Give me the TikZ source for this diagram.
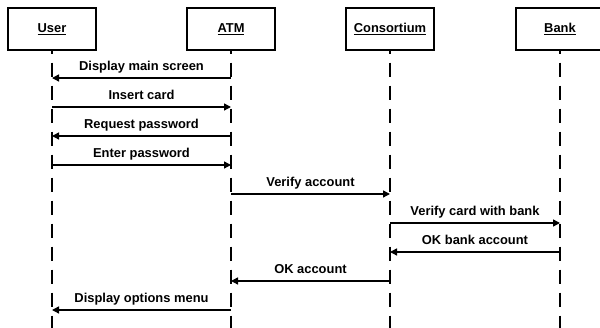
\documentclass[tikz,border=0pt]{standalone}
\usepackage{fontspec}
\setmainfont{Liberation Sans}
\usetikzlibrary{arrows.meta, positioning}

\begin{document}
\begin{tikzpicture}[->, >={Triangle[length=7pt,width=7pt]}, x=1pt, y=-1pt, line width=1.4pt, font=\fontsize{12.9}{15}\selectfont\bfseries]
		\tikzstyle{object}=[draw=black, fill=white, minimum width=88pt, minimum height=42pt, inner sep=0pt, line width=1.5pt]
		\tikzstyle{lifeline}=[-, line width=1.4pt, dash pattern=on 14pt off 9pt, dash phase=11pt]
		\tikzstyle{msg}=[text depth=0pt, inner sep=0pt, above=7pt]
		
		\useasboundingbox (0,0) rectangle (600,328);
		
		\node[object] at (52, 29)  (U) {\underline{User}};
		\node[object] at (231, 29) (A) {\underline{ATM}};
		\node[object] at (390, 29) (C) {\underline{Consortium}};
		\node[object] at (560, 29) (B) {\underline{Bank}};
		
		\coordinate (bottom) at (0, 328);
		\foreach \i in {1,...,9}
			\coordinate (r\i) at (0, {49+29*\i});
		
		\path
		(U.south) edge[lifeline] (U |- bottom)
		(A.south) edge[lifeline] (A |- bottom)
		(C.south) edge[lifeline] (C |- bottom)
		(B.south) edge[lifeline] (B |- bottom);
		
		\path
		(A |- r1) edge node[msg]{Display main screen} (U |- r1)
		(U |- r2) edge node[msg]{Insert card} (A |- r2)
		(A |- r3) edge node[msg]{Request password} (U |- r3)
		(U |- r4) edge node[msg]{Enter password} (A |- r4)
		(A |- r5) edge node[msg]{Verify account} (C |- r5)
		(C |- r6) edge node[msg]{Verify card with bank} (B |- r6)
		(B |- r7) edge node[msg]{OK bank account} (C |- r7)
		(C |- r8) edge node[msg]{OK account} (A |- r8)
		(A |- r9) edge node[msg]{Display options menu} (U |- r9);
	\end{tikzpicture}
\end{document}
